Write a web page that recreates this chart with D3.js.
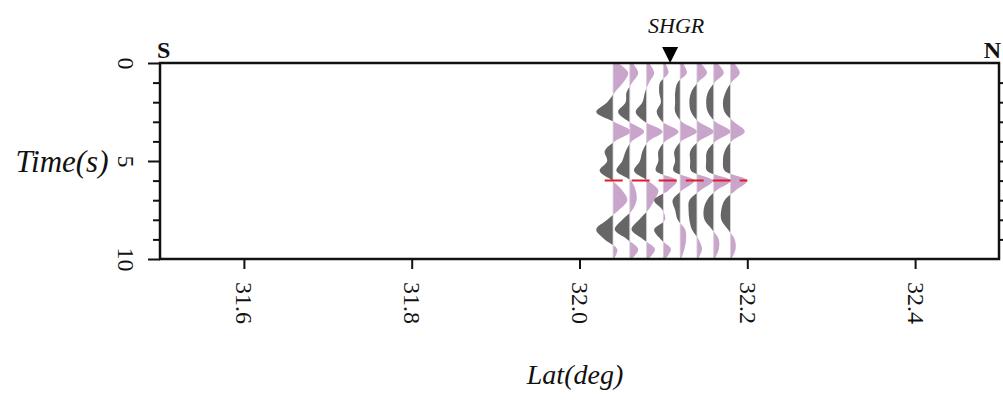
<!DOCTYPE html>
<html><head><meta charset="utf-8">
<script src="https://cdn.jsdelivr.net/npm/d3@7"></script>
<style>html,body{margin:0;padding:0;background:#fff;}svg{display:block;}</style>
</head><body>
<svg id="chart" width="1003" height="417"></svg>
<script>
// ---- data ----
const latTicks = [31.6, 31.8, 32.0, 32.2, 32.4];
const latTickLabels = ["31.6", "31.8", "32.0", "32.2", "32.4"];
const timeTicks = [0, 5, 10];
const timeTickLabels = ["0", "5", "10"];
const traceLats = [32.04, 32.06, 32.08, 32.10, 32.12, 32.14, 32.16, 32.18];
const sampleTimes = [0, 0.5, 1, 1.5, 2, 2.5, 3, 3.5, 4, 4.5, 5, 5.5, 6, 6.5, 7, 7.5, 8, 8.5, 9, 9.5, 10];
const trace1 = [0.3, 0.9, 0.6, 0.1, -0.35, -1.0, 0.05, 1.05, 0.1, -0.5, -0.35, -0.8, -0.05, 0.55, 0.85, 0.35, -0.35, -1.0, -0.5, 0.25, 0.05];
const trace2 = [0.15, 0.5, 0.15, -0.2, -0.25, -0.7, -0.05, 0.85, 0.1, -0.25, -0.45, -0.8, 0.05, 0.35, 0.4, 0.15, -0.45, -0.9, -0.15, 0.5, 0.1];
const trace3 = [0.15, 0.45, 0.15, -0.1, -0.25, -0.65, -0.1, 0.95, 0.1, -0.25, -0.4, -0.75, 0.05, 0.7, 0.45, 0.1, -0.45, -0.9, -0.2, 0.5, 0.1];
const trace4 = [0.1, 0.3, -0.2, -0.25, -0.15, -0.4, -0.05, 0.9, 0.1, -0.3, -0.3, -0.45, 0.8, 0.3, -0.55, -0.05, 0.1, -0.55, -0.15, 0.45, 0.1];
const trace5 = [0.15, 0.4, -0.15, -0.3, -0.3, -0.3, 0.1, 1.0, 0.05, -0.35, -0.3, -0.4, 0.85, 0.1, -0.45, -0.3, -0.15, 0.3, 0.35, 0.25, 0.05];
const trace6 = [0.2, 0.6, 0.05, -0.35, -0.45, -0.35, 0.1, 1.0, 0.1, -0.4, -0.4, -0.35, 0.95, 0.2, -0.45, -0.5, -0.45, -0.3, 0.1, 0.3, 0.05];
const trace7 = [0.2, 0.6, 0.05, -0.35, -0.45, -0.35, 0.1, 1.0, 0.1, -0.4, -0.45, -0.4, 1.0, 0.15, -0.4, -0.6, -0.55, -0.1, 0.3, 0.3, 0.05];
const trace8 = [0.2, 0.55, 0.05, -0.3, -0.45, -0.35, 0.2, 0.85, 0.05, -0.35, -0.45, -0.35, 1.0, 0.3, -0.35, -0.55, -0.55, -0.15, 0.25, 0.3, 0.05];
const traces = [trace1, trace2, trace3, trace4, trace5, trace6, trace7, trace8];
const station = {name: "SHGR", lat: 32.108};
const pickTime = 6;
const pickLatRange = [32.03, 32.20];

// ---- layout ----
const svg = d3.select("#chart");
const L = 160, R = 999, T = 63, B = 259;
const serif = "'Liberation Serif','DejaVu Serif',serif";
const x = d3.scaleLinear().domain([31.5, 32.5]).range([L, R]);
const y = d3.scaleLinear().domain([0, 10]).range([T, B]);
const amp = d3.scaleLinear().domain([-1, 1]).range([-16.8, 16.8]);

svg.append("rect").attr("width", 1003).attr("height", 417).attr("fill", "#fff");

// ---- traces ----
const defs = svg.append("defs");
const tg = svg.append("g");
traces.forEach((tr, i) => {
  const bx = x(traceLats[i]);
  const pts = sampleTimes.map((t, j) => ({t, v: tr[j]}));
  const area = d3.area().curve(d3.curveCatmullRom.alpha(0.5))
    .y(d => y(d.t)).x0(bx).x1(d => bx + amp(d.v));
  defs.append("clipPath").attr("id", "cp" + i).append("rect")
    .attr("x", bx).attr("y", T).attr("width", 60).attr("height", B - T);
  defs.append("clipPath").attr("id", "cn" + i).append("rect")
    .attr("x", bx - 60).attr("y", T).attr("width", 60).attr("height", B - T);
  tg.append("path").datum(pts).attr("d", area).attr("fill", "#c9a5cc")
    .attr("clip-path", `url(#cp${i})`);
  tg.append("path").datum(pts).attr("d", area).attr("fill", "#666666")
    .attr("clip-path", `url(#cn${i})`);
  tg.append("line").attr("x1", bx).attr("x2", bx).attr("y1", y(0)).attr("y2", y(9.9))
    .attr("stroke", "#d8d0da").attr("stroke-width", 0.8);
});

// pick line
svg.append("line")
  .attr("x1", x(pickLatRange[0])).attr("x2", x(pickLatRange[1]))
  .attr("y1", y(pickTime)).attr("y2", y(pickTime))
  .attr("stroke", "#e31a2c").attr("stroke-width", 2).attr("stroke-dasharray", "18,9");

// ---- frame ----
svg.append("rect").attr("x", L).attr("y", T).attr("width", R - L).attr("height", B - T)
  .attr("fill", "none").attr("stroke", "#111").attr("stroke-width", 2.5);

// bottom axis
const bx = svg.append("g").attr("transform", `translate(0,${B})`)
  .call(d3.axisBottom(x).tickValues(latTicks).tickSize(10).tickFormat((d, i) => latTickLabels[i]));
bx.select(".domain").remove();
bx.selectAll("line").attr("stroke", "#111").attr("stroke-width", 2);
bx.selectAll("text").attr("font-family", serif).attr("font-size", 24).attr("fill", "#111")
  .attr("text-anchor", "start").attr("transform", "rotate(90)")
  .attr("x", 23).attr("y", 0).attr("dy", "0.33em");

// left axis
const lx = svg.append("g").attr("transform", `translate(${L},0)`)
  .call(d3.axisLeft(y).tickValues(timeTicks).tickSize(12).tickFormat((d, i) => timeTickLabels[i]));
lx.select(".domain").remove();
lx.selectAll("line").attr("stroke", "#111").attr("stroke-width", 2);
lx.selectAll("text").attr("font-family", serif).attr("font-size", 24).attr("fill", "#111")
  .attr("text-anchor", "middle").attr("transform", "rotate(90)")
  .attr("x", 0).attr("y", 34).attr("dy", "0.33em");
const lminor = svg.append("g").attr("transform", `translate(${L},0)`)
  .call(d3.axisLeft(y).tickValues([1, 2, 3, 4, 6, 7, 8, 9]).tickSize(7).tickFormat(""));
lminor.select(".domain").remove();
lminor.selectAll("line").attr("stroke", "#111").attr("stroke-width", 2);

// right axis
const rx = svg.append("g").attr("transform", `translate(${R},0)`)
  .call(d3.axisRight(y).tickValues([1, 2, 3, 4, 5, 6, 7, 8, 9]).tickSize(5).tickFormat(""));
rx.select(".domain").remove();
rx.selectAll("line").attr("stroke", "#111").attr("stroke-width", 2);

// labels
svg.append("text").attr("x", 62).attr("y", 172).attr("text-anchor", "middle")
  .attr("font-family", serif).attr("font-style", "italic").attr("font-size", 31).attr("fill", "#111")
  .text("Time(s)");
svg.append("text").attr("x", 575).attr("y", 384).attr("text-anchor", "middle")
  .attr("font-family", serif).attr("font-style", "italic").attr("font-size", 28).attr("fill", "#111")
  .text("Lat(deg)");
svg.append("text").attr("x", 157).attr("y", 58).attr("text-anchor", "start")
  .attr("font-family", serif).attr("font-weight", "bold").attr("font-size", 24).attr("fill", "#111")
  .text("S");
svg.append("text").attr("x", 1001).attr("y", 58).attr("text-anchor", "end")
  .attr("font-family", serif).attr("font-weight", "bold").attr("font-size", 24).attr("fill", "#111")
  .text("N");
const sx = x(station.lat);
svg.append("text").attr("x", sx + 6).attr("y", 33).attr("text-anchor", "middle")
  .attr("font-family", serif).attr("font-style", "italic").attr("font-size", 22).attr("fill", "#111")
  .text(station.name);
svg.append("path").attr("d", d3.line()([[sx - 8, T - 16], [sx + 8, T - 16], [sx, T]]) + "Z")
  .attr("fill", "#000");
</script>
</body></html>
